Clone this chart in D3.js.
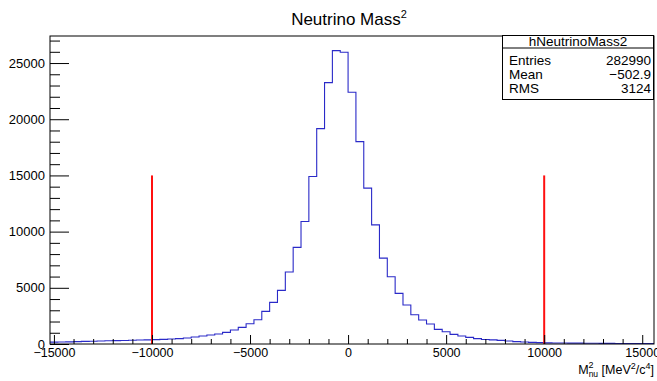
<!DOCTYPE html>
<html>
<head>
<meta charset="utf-8">
<script src="https://cdn.jsdelivr.net/npm/d3@7"></script>
<style>
  body { margin: 0; background: #fff; }
  svg { font-family: 'Liberation Sans', Arial, Helvetica, sans-serif; }
</style>
</head>
<body>
<div class="graph"><svg></svg></div>
<script>
// histogram hNeutrinoMass2: 77 bins of 400 starting at -15200
const binLow = -15200
const binWidth = 400
const counts = [
  // -15200 .. -10000
  170, 180, 190, 210, 230, 250, 270, 290, 300, 310, 330, 350, 370,
  // -10000 .. -2800
  385, 415, 444, 474, 533, 622, 711, 800, 889, 1037, 1245, 1481, 1807, 2163, 2904, 3704, 4770, 6400,
  // -2800 .. -2000
  8600, 10900,
  // -2000 .. 1200
  14900, 19167, 23257, 26101, 25959, 22403, 18011, 13868,
  // 1200 .. 2000
  10600, 7645,
  // 2000 .. 10000
  5985, 4504, 3467, 2607, 2133, 1778, 1304, 1096, 859, 711, 593, 474, 400, 370, 326, 267, 207, 178, 148, 118,
  // 10000 .. 15600
  100, 90, 85, 80, 75, 70, 65, 60, 55, 50, 50, 45, 45, 40
]
const xTicks = [-15000, -10000, -5000, 0, 5000, 10000, 15000]
const yTicks = [0, 5000, 10000, 15000, 20000, 25000]
const cutValues = [-10000, 10000]
const cutHeight = 15000
const statsTitle = 'hNeutrinoMass2'
const statsLabels = ['Entries', 'Mean', 'RMS']
const statsValues = ['282990', '\u2212502.9', '3124']

const svgWidth = 657
const svgHeight = 381
const margin = { top: 36, right: 3, bottom: 37, left: 50 }
const width = svgWidth - margin.left - margin.right
const height = svgHeight - margin.top - margin.bottom
const font = "'Liberation Sans', Arial, Helvetica, sans-serif"

/**
 * Sets the size of the SVG canvas and returns the plotting group.
 *
 * @returns {*} The d3 Selection for the g element
 */
function generateG () {
  const svg = d3.select('.graph').select('svg')
    .attr('width', svgWidth)
    .attr('height', svgHeight)
  return svg.append('g')
    .attr('id', 'graph-g')
    .attr('transform', 'translate(' + margin.left + ',' + margin.top + ')')
}

const g = generateG()

const xScale = d3.scaleLinear()
  .domain([binLow, binLow + counts.length * binWidth])
  .range([0, width])

const yScale = d3.scaleLinear()
  .domain([0, 1.05 * d3.max(counts)])
  .range([height, 0])

// histogram outline
const points = counts.map((c, i) => [binLow + i * binWidth, c])
points.push([binLow + counts.length * binWidth, counts[counts.length - 1]])

g.append('path')
  .datum(points)
  .attr('fill', 'none')
  .attr('stroke', '#2a2ac8')
  .attr('stroke-width', 1.1)
  .attr('d', d3.line()
    .x(d => xScale(d[0]))
    .y(d => yScale(d[1]))
    .curve(d3.curveStepAfter))

// cut lines
g.selectAll('.cut')
  .data(cutValues)
  .enter()
  .append('line')
  .attr('class', 'cut')
  .attr('x1', d => xScale(d))
  .attr('x2', d => xScale(d))
  .attr('y1', yScale(0))
  .attr('y2', yScale(cutHeight))
  .attr('stroke', '#ff1010')
  .attr('stroke-width', 2)

/**
 * Draws the x axis with major and minor ticks pointing into the frame.
 */
function drawXAxis () {
  const minor = d3.range(-15000, 15001, 1000).filter(v => !xTicks.includes(v))
  g.append('g')
    .attr('class', 'x axis minor')
    .attr('transform', 'translate(0, ' + height + ')')
    .call(d3.axisBottom(xScale).tickValues(minor).tickSizeInner(-5).tickSizeOuter(0).tickFormat(''))
    .call(s => s.select('.domain').remove())

  g.append('g')
    .attr('class', 'x axis')
    .attr('transform', 'translate(0, ' + height + ')')
    .call(d3.axisBottom(xScale).tickValues(xTicks).tickSizeInner(-9).tickSizeOuter(0).tickPadding(4)
      .tickFormat(d3.format('d')))
    .attr('font-size', 12.5)
    .attr('font-family', font)
    .call(s => s.select('.domain').remove())
}

/**
 * Draws the y axis with major and minor ticks pointing into the frame.
 */
function drawYAxis () {
  const minor = d3.range(0, 27001, 1000).filter(v => !yTicks.includes(v))
  g.append('g')
    .attr('class', 'y axis minor')
    .call(d3.axisLeft(yScale).tickValues(minor).tickSizeInner(-10).tickSizeOuter(0).tickFormat(''))
    .call(s => s.select('.domain').remove())

  g.append('g')
    .attr('class', 'y axis')
    .call(d3.axisLeft(yScale).tickValues(yTicks).tickSizeInner(-19).tickSizeOuter(0).tickPadding(5)
      .tickFormat(d3.format('d')))
    .attr('font-size', 13)
    .attr('font-family', font)
    .call(s => s.select('.domain').remove())
}

drawXAxis()
drawYAxis()

// frame
g.append('rect')
  .attr('x', 0)
  .attr('y', 0)
  .attr('width', width)
  .attr('height', height)
  .attr('fill', 'none')
  .attr('stroke', '#000')
  .attr('stroke-width', 1)

const svg = d3.select('.graph').select('svg')

// title
const title = svg.append('text')
  .attr('x', 349)
  .attr('y', 25)
  .attr('text-anchor', 'middle')
  .attr('font-size', 17)
  .attr('fill', '#000')
title.append('tspan').text('Neutrino Mass')
title.append('tspan').attr('dy', -7).attr('font-size', 11).text('2')

// x axis title
const xTitle = svg.append('text')
  .attr('x', 654)
  .attr('y', 374)
  .attr('text-anchor', 'end')
  .attr('font-size', 12.5)
  .attr('fill', '#000')
xTitle.append('tspan').text('M')
xTitle.append('tspan').attr('dy', -6).attr('font-size', 9).text('2')
xTitle.append('tspan').attr('dx', -5).attr('dy', 9).attr('font-size', 8.5).text('nu')
xTitle.append('tspan').attr('dy', -3).text(' [MeV')
xTitle.append('tspan').attr('dy', -5).attr('font-size', 9).text('2')
xTitle.append('tspan').attr('dy', 5).text('/c')
xTitle.append('tspan').attr('dy', -5).attr('font-size', 9).text('4')
xTitle.append('tspan').attr('dy', 5).text(']')

// stats box
const stats = svg.append('g').attr('class', 'stats')
stats.append('rect')
  .attr('x', 502.5)
  .attr('y', 35.5)
  .attr('width', 151)
  .attr('height', 64)
  .attr('fill', '#fff')
  .attr('stroke', '#000')
stats.append('line')
  .attr('x1', 502.5)
  .attr('x2', 653.5)
  .attr('y1', 48)
  .attr('y2', 48)
  .attr('stroke', '#000')
stats.append('text')
  .attr('x', 578)
  .attr('y', 46)
  .attr('text-anchor', 'middle')
  .attr('font-size', 13.5)
  .text(statsTitle)
stats.selectAll('.stat-label')
  .data(statsLabels)
  .enter()
  .append('text')
  .attr('class', 'stat-label')
  .attr('x', 509)
  .attr('y', (d, i) => 64.5 + i * 14.2)
  .attr('font-size', 13.5)
  .text(d => d)
stats.selectAll('.stat-value')
  .data(statsValues)
  .enter()
  .append('text')
  .attr('class', 'stat-value')
  .attr('x', 651)
  .attr('y', (d, i) => 64.5 + i * 14.2)
  .attr('text-anchor', 'end')
  .attr('font-size', 13.5)
  .text(d => d)
</script>
</body>
</html>
